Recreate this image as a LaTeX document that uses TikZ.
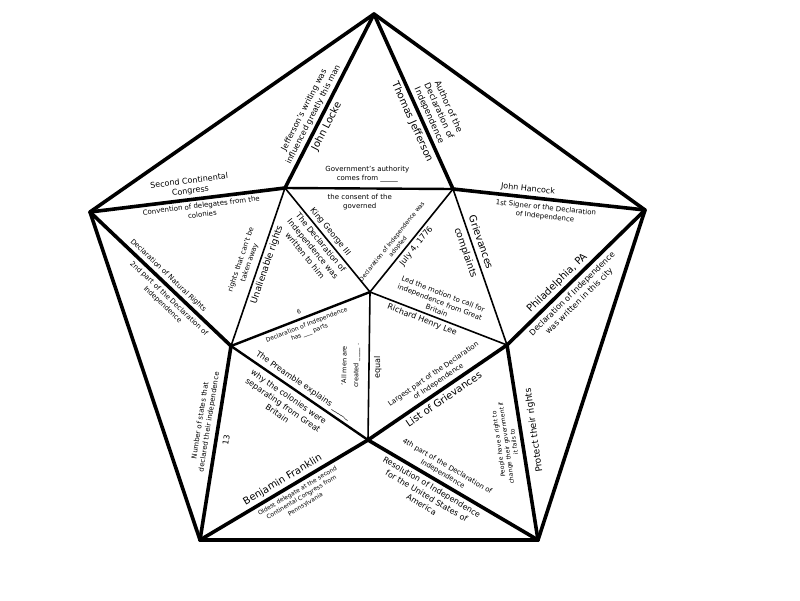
\documentclass[tikz,border=0pt]{standalone}
\usepackage{fontspec}
\setmainfont{DejaVu Sans}
\usetikzlibrary{calc}
\newcommand\fsz[2]{\fontsize{#1}{#2}\selectfont}
\begin{document}
\begin{tikzpicture}[x=1pt,y=-1pt,
  thickedge/.style={line width=3.6pt, line cap=round, line join=round},
  midedge/.style={line width=2.4pt, line cap=round},
  thinedge/.style={line width=1.6pt, line cap=round},
  lbl/.style={inner sep=0pt, outer sep=4.3pt, align=center},
  bigt/.style={lbl, font=\fsz{10}{12}},
  medt/.style={lbl, font=\fsz{8}{10.2}},
  smallt/.style={lbl, font=\fsz{7}{9}},
  tinyt/.style={lbl, font=\fsz{6}{7.8}}]
\fill[white] (0,0) rectangle (800,600);
\useasboundingbox (0,0) rectangle (800,600);
% vertices
\coordinate (T) at (374,14);
\coordinate (L) at (90,212);
\coordinate (R) at (645,210);
\coordinate (BL) at (200,540);
\coordinate (BR) at (538,540);
\coordinate (A) at (285,188);
\coordinate (B) at (453,189);
\coordinate (C) at (231,346);
\coordinate (D) at (507,345);
\coordinate (E) at (368,440);
\coordinate (O) at (370,292);
% outer edges
\draw[thickedge] (T) -- (L);
\draw[thickedge] (T) -- (R);
\draw[thickedge] (L) -- (BL);
\draw[thickedge] (BL) -- (BR);
\draw[thickedge] (BR) -- (R);
% spokes
\draw[thickedge] (T) -- (A);
\draw[thickedge] (T) -- (B);
\draw[thickedge] (L) -- (A);
\draw[thickedge] (B) -- (R);
\draw[thickedge] (L) -- (C);
\draw[thickedge] (D) -- (R);
\draw[thickedge] (D) -- (BR);
\draw[thickedge] (C) -- (BL);
\draw[thickedge] (E) -- (BL);
\draw[thickedge] (E) -- (BR);
% inner pentagon
\draw[midedge] (A) -- (B);
\draw[thinedge] (A) -- (C);
\draw[thinedge] (B) -- (D);
\draw[midedge] (C) -- (E);
\draw[thickedge] (D) -- (E);
% center spokes
\draw[thinedge] (O) -- (A);
\draw[thinedge] (O) -- (B);
\draw[midedge] (O) -- (C);
\draw[thinedge] (O) -- (D);
\draw[thinedge] (O) -- (E);
% labels
\node[medt, rotate=62.9, anchor=south] (n1) at ($(A)!0.40!(T)$) {Jefferson's writing was\\influenced greatly this man};
\node[bigt, rotate=62.9, anchor=north] (n2) at ($(A)!0.378!(T)$) {John Locke};
\node[bigt, rotate=-65.7, anchor=north, outer sep=4.8pt] (n3) at ($(T)!0.594!(B)$) {Thomas Jefferson};
\node[lbl, font=\fsz{8.5}{10.5}, rotate=-65.7, anchor=south] (n4) at ($(T)!0.6!(B)$) {Author of the\\Declaration of\\Independence};
\node[smallt, anchor=south, outer sep=6pt] (n5) at ($(A)!0.49!(B)$) {Government's authority\\comes from \_\_\_\_\_};
\node[smallt, anchor=north, outer sep=6pt] (n6) at ($(A)!0.445!(B)$) {the consent of the\\governed};
\node[medt, rotate=7, anchor=south] (n7) at ($(L)!0.52!(A)$) {Second Continental\\Congress};
\node[smallt, rotate=7, anchor=north] (n8) at ($(L)!0.566!(A)$) {Convention of delegates from the\\colonies};
\node[medt, rotate=-6.2, anchor=south] (n9) at ($(B)!0.386!(R)$) {John Hancock};
\node[smallt, rotate=-6.2, anchor=north, outer sep=5.5pt] (n10) at ($(B)!0.489!(R)$) {1st Signer of the Declaration\\of Independence};
\node[smallt, rotate=-43.5, anchor=south] (n11) at ($(L)!0.518!(C)$) {Declaration of Natural Rights};
\node[smallt, rotate=-43.5, anchor=north, outer sep=5pt] (n12) at ($(L)!0.6!(C)$) {2nd part of the Declaration of\\Independence};
\node[smallt, rotate=71.1, anchor=south, outer sep=6pt] (n13) at ($(C)!0.509!(A)$) {rights that can't be\\taken away};
\node[lbl, font=\fsz{9}{11}, rotate=71.1, anchor=north, outer sep=3.5pt] (n14) at ($(C)!0.53!(A)$) {Unalienable rights};
\node[medt, rotate=-50.7, anchor=south, outer sep=3.5pt] (n15) at ($(A)!0.465!(O)$) {King George III};
\node[medt, rotate=-50.7, anchor=north, outer sep=3.5pt] (n16) at ($(A)!0.483!(O)$) {The Declaration of\\Independence was\\written to him};
\node[tinyt, rotate=51.2, anchor=south, outer sep=3.5pt] (n17) at ($(O)!0.40!(B)$) {Declaration of Independence was\\adopted};
\node[medt, rotate=51.2, anchor=north, outer sep=3.5pt] (n18) at ($(O)!0.49!(B)$) {July 4, 1776};
\node[lbl, font=\fsz{9.5}{11}, rotate=-70.9, anchor=north, outer sep=4.5pt] (n19) at ($(B)!0.39!(D)$) {complaints};
\node[bigt, rotate=-70.9, anchor=south, outer sep=5.5pt] (n20) at ($(B)!0.36!(D)$) {Grievances};
\node[smallt, rotate=-21.1, anchor=south, outer sep=4pt] (n21) at ($(O)!0.47!(D)$) {Led the motion to call for\\independence from Great\\Britain};
\node[medt, rotate=-21.1, anchor=north, outer sep=3.5pt] (n22) at ($(O)!0.40!(D)$) {Richard Henry Lee};
\node[bigt, rotate=44.4, anchor=south] (n23) at ($(D)!0.41!(R)$) {Philadelphia, PA};
\node[medt, rotate=44.4, anchor=north, outer sep=5.5pt] (n24) at ($(D)!0.426!(R)$) {Declaration of Independence\\was written in this city};
\node[tinyt, rotate=21.2, anchor=south, outer sep=5pt] (n25) at ($(C)!0.508!(O)$) {6};
\node[tinyt, rotate=21.2, anchor=north, outer sep=5pt] (n26) at ($(C)!0.524!(O)$) {Declaration of Independence\\has \_\_\_ parts};
\node[medt, rotate=-34.5, anchor=south] (n27) at ($(C)!0.493!(E)$) {The Preamble explains \_\_\_\_\_};
\node[medt, rotate=-34.5, anchor=north, outer sep=6pt] (n28) at ($(C)!0.46!(E)$) {why the colonies were\\separating from Great\\Britain};
\node[lbl, font=\fsz{6.5}{12}, rotate=89.2, anchor=south, outer sep=9pt] (n29) at ($(E)!0.5!(O)$) {'All men are\\created \_\_\_\_ .};
\node[medt, rotate=89.2, anchor=north, outer sep=5pt] (n30) at ($(E)!0.49!(O)$) {equal};
\node[smallt, rotate=34.4, anchor=south, outer sep=5pt] (n31) at ($(E)!0.542!(D)$) {Largest part of the Declaration\\of Independence};
\node[bigt, rotate=34.4, anchor=north, outer sep=5pt] (n32) at ($(E)!0.508!(D)$) {List of Grievances};
\node[tinyt, rotate=98, anchor=south, outer sep=6pt] (n33) at ($(BR)!0.509!(D)$) {People have a right to\\change their government if\\it fails to};
\node[lbl, font=\fsz{9}{11}, rotate=98, anchor=north, outer sep=9pt] (n34) at ($(BR)!0.553!(D)$) {Protect their rights};
\node[medt, rotate=80.9, anchor=north, outer sep=7pt] (n35) at ($(BL)!0.525!(C)$) {13};
\node[smallt, rotate=80.9, anchor=south, outer sep=6pt] (n36) at ($(BL)!0.60!(C)$) {Number of states that\\declared their independence};
\node[bigt, rotate=30.8, anchor=south] (n37) at ($(BL)!0.52!(E)$) {Benjamin Franklin};
\node[tinyt, rotate=30.8, anchor=north, outer sep=5pt] (n38) at ($(BL)!0.557!(E)$) {Oldest delegate at the second\\Continental Congress from\\Pennsylvania};
\node[smallt, rotate=-30.5, anchor=south, outer sep=5pt] (n39) at ($(E)!0.414!(BR)$) {4th part of the Declaration of\\Independence};
\node[medt, rotate=-30.5, anchor=north, outer sep=5pt] (n40) at ($(E)!0.40!(BR)$) {Resolution of Independence\\for the United States of\\America};
\end{tikzpicture}
\end{document}
